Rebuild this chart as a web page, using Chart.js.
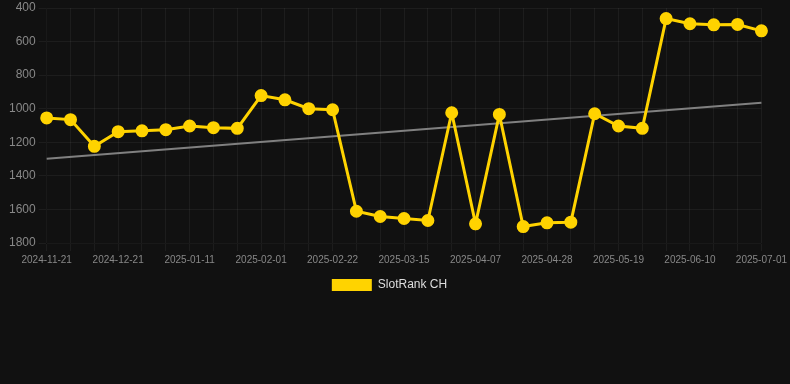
<!DOCTYPE html>
<html>
<head>
<meta charset="utf-8">
<script src="https://cdn.jsdelivr.net/npm/chart.js@4/dist/chart.umd.min.js"></script>
<style>
  html, body { margin: 0; padding: 0; background: #111111; }
  #wrap { position: relative; width: 790px; height: 301px; }
</style>
</head>
<body>
<div id="wrap"><canvas id="c"></canvas></div>
<script>
const dates = [
  "2024-11-21","2024-11-28","2024-12-07","2024-12-21","2024-12-28","2025-01-04",
  "2025-01-11","2025-01-18","2025-01-25","2025-02-01","2025-02-08","2025-02-15",
  "2025-02-22","2025-03-01","2025-03-08","2025-03-15","2025-03-23","2025-03-31",
  "2025-04-07","2025-04-14","2025-04-21","2025-04-28","2025-05-05","2025-05-12",
  "2025-05-19","2025-05-27","2025-06-03","2025-06-10","2025-06-17","2025-06-24",
  "2025-07-01"
];
const rankCH = [
  1055, 1065, 1224, 1137, 1132, 1125,
  1103, 1113, 1117, 922, 947, 1000,
  1006, 1611, 1642, 1654, 1666, 1024,
  1686, 1034, 1702, 1680, 1676, 1030,
  1103, 1117, 463, 494, 500, 498,
  536
];
const trendStart = 1298;
const trendEnd = 965;
const yTicks = [400, 600, 800, 1000, 1200, 1400, 1600, 1800];

const trend = dates.map((d, i) => i === 0 ? trendStart : (i === dates.length - 1 ? trendEnd : null));

new Chart(document.getElementById('c'), {
  type: 'line',
  data: {
    labels: dates,
    datasets: [
      {
        label: 'SlotRank CH',
        data: rankCH,
        borderColor: '#FFD300',
        backgroundColor: '#FFD300',
        borderWidth: 3,
        pointRadius: 5,
        pointHoverRadius: 5,
        pointBackgroundColor: '#FFD300',
        pointBorderColor: '#FFD300',
        tension: 0,
        order: 1
      },
      {
        label: 'trend',
        data: trend,
        spanGaps: true,
        borderColor: '#808080',
        borderWidth: 2,
        pointRadius: 0,
        fill: false,
        order: 2
      }
    ]
  },
  options: {
    responsive: true,
    maintainAspectRatio: false,
    animation: false,
    layout: { padding: { left: 6, top: 0, right: 17, bottom: 0 } },
    plugins: {
      legend: {
        position: 'bottom',
        labels: {
          color: '#dddddd',
          font: { family: 'Liberation Sans, Arial, sans-serif', size: 12 },
          boxWidth: 40,
          boxHeight: 12,
          filter: (item) => item.text !== 'trend',
          generateLabels: (chart) => Chart.defaults.plugins.legend.labels.generateLabels(chart)
            .map(it => Object.assign(it, { lineWidth: 0, strokeStyle: 'rgba(0,0,0,0)' }))
        }
      },
      tooltip: { enabled: false }
    },
    scales: {
      x: {
        offset: false,
        grid: { color: 'rgba(255,255,255,0.05)' },
        ticks: {
          color: '#888888',
          font: { family: 'Liberation Sans, Arial, sans-serif', size: 10 },
          maxRotation: 0,
          autoSkip: false,
          callback: function(v, i) { return i % 3 === 0 ? dates[i] : ''; }
        }
      },
      y: {
        reverse: true,
        min: yTicks[0],
        max: yTicks[yTicks.length - 1],
        grid: { color: 'rgba(255,255,255,0.05)' },
        afterBuildTicks: (axis) => { axis.ticks = yTicks.map(v => ({ value: v })); },
        afterFit: (axis) => { axis.paddingTop = 6; axis.paddingBottom = 0; },
        ticks: {
          color: '#888888',
          font: { family: 'Liberation Sans, Arial, sans-serif', size: 12 },
          callback: (v) => String(v)
        }
      }
    }
  }
});
</script>
</body>
</html>
